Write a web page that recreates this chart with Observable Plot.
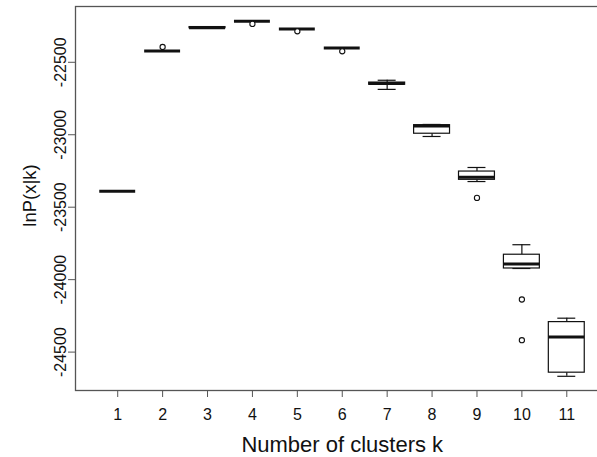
<!DOCTYPE html>
<html>
<head>
<meta charset="utf-8">
<script src="https://cdn.jsdelivr.net/npm/d3@7"></script>
<script src="https://cdn.jsdelivr.net/npm/@observablehq/plot@0.6"></script>
<style>
  html, body { margin: 0; padding: 0; background: white; overflow: hidden; }
  #chart { width: 597px; height: 457px; overflow: hidden; }
  #chart svg { max-width: none !important; display: block; }
</style>
</head>
<body>
<div id="chart"></div>
<script>
// Number of clusters k
const ks = [1, 2, 3, 4, 5, 6, 7, 8, 9, 10, 11];
// Box-plot summaries of lnP(x|k)
const lowWhisker = [-23390, -22422, -22266, -22216, -22270, -22401, -22687, -23012, -23323, -23923, -24667];
const q1         = [-23390, -22422, -22265, -22216, -22270, -22401, -22655, -22993, -23311, -23923, -24642];
const medians    = [-23390, -22422, -22261, -22216, -22270, -22401, -22647, -22940, -23293, -23892, -24395];
const q3         = [-23390, -22422, -22257, -22216, -22270, -22401, -22640, -22934, -23254, -23828, -24293];
const highWhisker= [-23390, -22422, -22255, -22216, -22270, -22401, -22624, -22929, -23226, -23759, -24266];
// Outliers
const outlierK   = [2, 4, 5, 6, 9, 10, 10];
const outlierV   = [-22394, -22235, -22286, -22424, -23436, -24137, -24418];
// Tick labels
const yTicks = [-22500, -23000, -23500, -24000, -24500];
const xLabel = "Number of clusters k";
const yLabel = "lnP(x|k)";

const stats = ks.map((k, i) => ({k, lo: lowWhisker[i], q1: q1[i], med: medians[i], q3: q3[i], hi: highWhisker[i]}));
const outliers = outlierK.map((k, i) => ({k, v: outlierV[i]}));

const ink = "#111";
const axisGray = "#555";

const chart = Plot.plot({
  width: 612,
  height: 457,
  marginLeft: 75,
  marginRight: 3.5,
  marginTop: 6,
  marginBottom: 67,
  style: {fontFamily: "'Liberation Sans', Arial, sans-serif", background: "white", color: ink},
  x: {type: "linear", domain: [0.06, 11.94]},
  y: {domain: [-24765, -22115]},
  marks: [
    Plot.frame({stroke: axisGray, strokeWidth: 1.3}),
    Plot.axisX({ticks: ks, tickSize: 7, tickPadding: 11, fontSize: 16, stroke: axisGray, label: null, tickFormat: d => String(d)}),
    Plot.axisY({ticks: yTicks, tickSize: 7, tickPadding: 3, tickRotate: -90, fontSize: 16, stroke: axisGray, label: null, tickFormat: d => String(d)}),
    Plot.text([xLabel], {text: d => d, frameAnchor: "bottom", dy: 54, textAnchor: "middle", lineAnchor: "middle", fontSize: 22, fill: ink}),
    Plot.text([yLabel], {text: d => d, frameAnchor: "left", dx: -45, dy: -3, rotate: -90, textAnchor: "middle", lineAnchor: "middle", fontSize: 18.5, fill: ink}),
    // whiskers
    Plot.ruleX(stats, {x: "k", y1: "lo", y2: "q1", stroke: ink, strokeWidth: 1.2}),
    Plot.ruleX(stats, {x: "k", y1: "q3", y2: "hi", stroke: ink, strokeWidth: 1.2}),
    // staples
    Plot.ruleY(stats, {y: "lo", x1: d => d.k - 0.2, x2: d => d.k + 0.2, stroke: ink, strokeWidth: 1.2}),
    Plot.ruleY(stats, {y: "hi", x1: d => d.k - 0.2, x2: d => d.k + 0.2, stroke: ink, strokeWidth: 1.2}),
    // boxes
    Plot.rect(stats, {x1: d => d.k - 0.4, x2: d => d.k + 0.4, y1: "q1", y2: "q3", fill: "white", stroke: ink, strokeWidth: 1.2}),
    // medians
    Plot.ruleY(stats, {y: "med", x1: d => d.k - 0.4, x2: d => d.k + 0.4, stroke: ink, strokeWidth: 3}),
    // outliers
    Plot.dot(outliers, {x: "k", y: "v", r: 2.6, stroke: ink, fill: "white", strokeWidth: 1.1})
  ]
});
chart.style.maxWidth = "none";
document.getElementById("chart").append(chart);
</script>
</body>
</html>
